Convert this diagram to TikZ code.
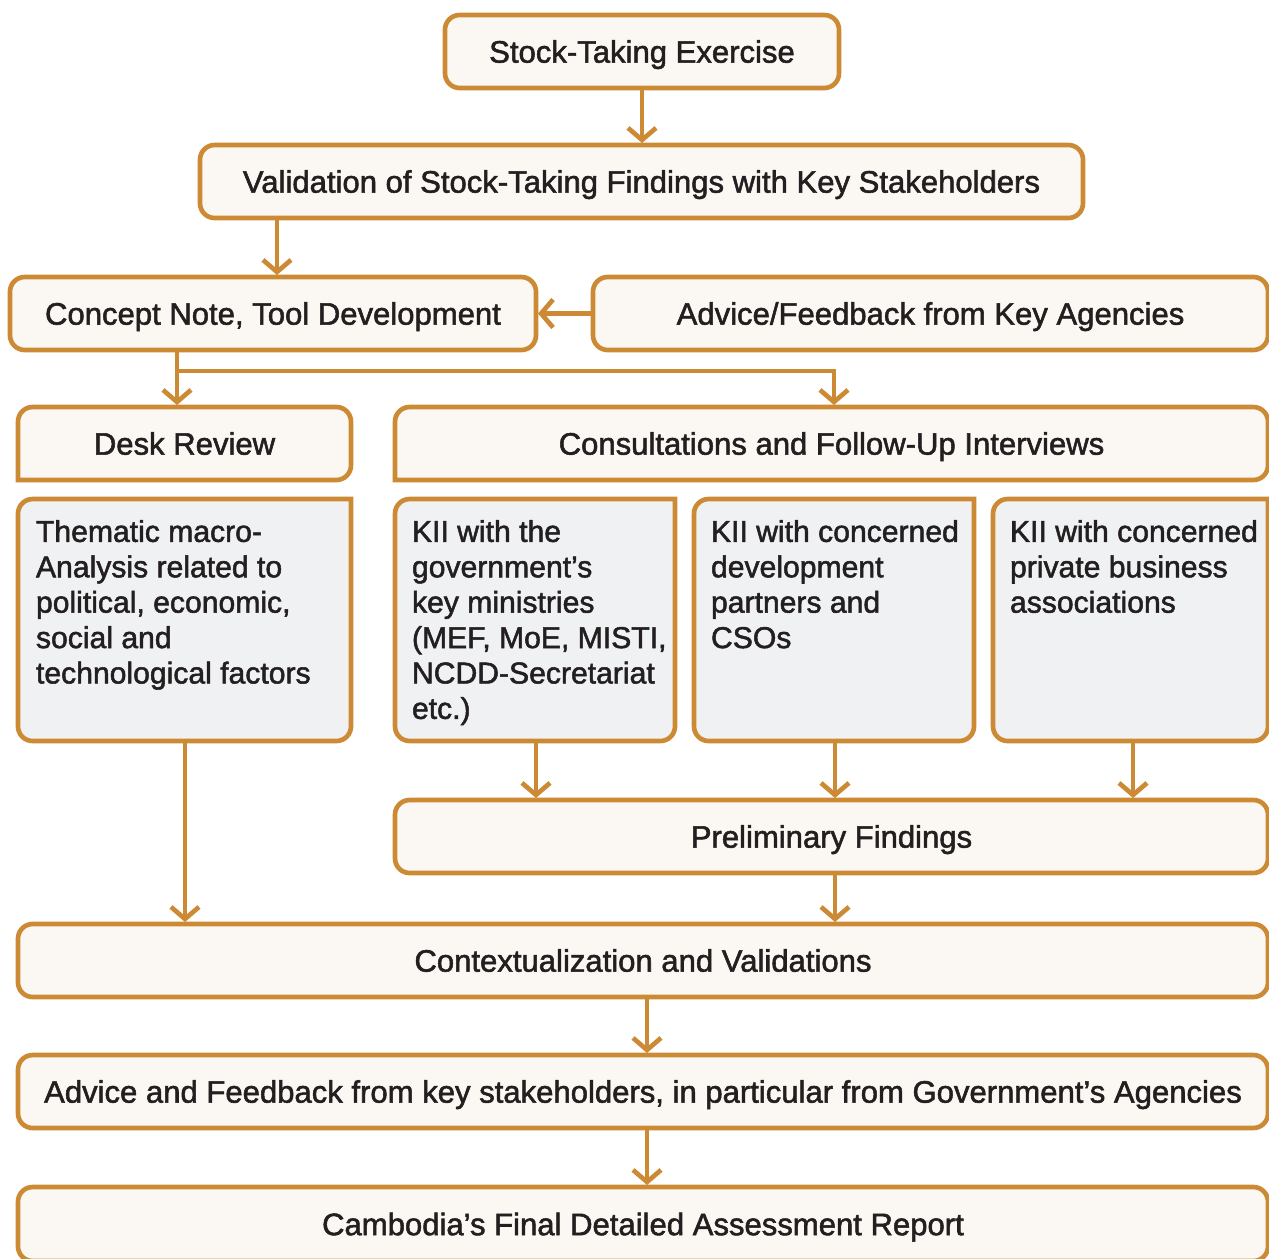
\documentclass[tikz,border=0pt]{standalone}
\usepackage{fontspec}
\newfontfamily\lbl{Liberation Sans}[FakeBold=1.7]
\usetikzlibrary{arrows.meta,backgrounds}
\definecolor{orng}{HTML}{CD8A35}
\definecolor{cream}{HTML}{FBF8F3}
\definecolor{grayfill}{HTML}{F0F1F3}
\definecolor{ink}{HTML}{231F20}
\begin{document}
\begin{tikzpicture}[x=0.75pt,y=-0.75pt,
  lab/.style={inner sep=0pt, outer sep=0pt, text=ink, font=\lbl\fontsize{23.3}{26.55}\selectfont, text height=16.7pt, text depth=0pt},
  box/.style={lab, draw=orng, fill=cream, line width=3.5pt, rounded corners=11pt, minimum height=54.75pt},
  plain/.style={lab, minimum height=54.75pt},
  para/.style={inner sep=0pt, outer sep=0pt, text=ink, font=\lbl\fontsize{22.6}{26.55}\selectfont, align=left, anchor=north west},
  frame/.style={draw=orng, line width=3.5pt},
  arr/.style={draw=orng, line width=3.5pt, shorten >=1.5pt, -{Straight Barb[length=9pt,width=21pt]}}]
\useasboundingbox (0,0) rectangle (1269,1258);
\clip (0,0) rectangle (1269,1258);

% single boxes
\node[box, minimum width=295.5pt] (stock) at (642,51.5) {Stock-Taking Exercise};
\node[box, minimum width=662.25pt] (valid) at (641.5,181.5) {Validation of Stock-Taking Findings with Key Stakeholders};
\node[box, minimum width=394.5pt] (concept) at (273,313.5) {Concept Note, Tool Development};
\node[box, minimum width=506.25pt] (advice) at (930.5,313.5) {Advice/Feedback from Key Agencies};
\node[box, minimum width=654.75pt] (prelim) at (831.5,836.5) {Preliminary Findings};
\node[box, minimum width=937.5pt] (context) at (643,960.5) {Contextualization and Validations};
\node[box, minimum width=937.5pt] (advfb) at (643,1091.5) {Advice and Feedback from key stakeholders, in particular from Government’s Agencies};
\node[box, minimum width=937.5pt, minimum height=55.5pt] (camb) at (643,1224) {Cambodia’s Final Detailed Assessment Report};

% headers (rounded top only)
\node[plain, minimum width=249.75pt] (desk) at (184.5,443.5) {Desk Review};
\node[plain, minimum width=654.75pt] (consult) at (831.5,443.5) {Consultations and Follow-Up Interviews};

% content boxes (rounded bottom only)
\node[plain, minimum width=249.75pt, minimum height=181.5pt] (deskc) at (184.5,620) {};
\node[plain, minimum width=210pt, minimum height=181.5pt] (kii1) at (535,620) {};
\node[plain, minimum width=210pt, minimum height=181.5pt] (kii2) at (834,620) {};
\node[plain, minimum width=206.25pt, minimum height=181.5pt] (kii3) at (1130.5,620) {};

\begin{pgfonlayer}{background}
  \fill[white] (0,0) rectangle (1269,1258);
  \foreach \n in {desk,consult}{
    \draw[frame, fill=cream] (\n.south west) [rounded corners=11pt] -- (\n.north west) -- (\n.north east) -- (\n.south east) [sharp corners] -- cycle;
  }
  \foreach \n in {deskc,kii1,kii2,kii3}{
    \draw[frame, fill=grayfill] (\n.north east) [rounded corners=11pt] -- (\n.south east) -- (\n.south west) -- (\n.north west) [sharp corners] -- cycle;
  }
\end{pgfonlayer}

\node[para] (deskt) at (36,520) {Thematic macro-\\Analysis related to\\political, economic,\\social and\\technological factors};
\node[para] (kii1t) at (412,520) {KII with the\\government’s\\key ministries\\(MEF, MoE, MISTI,\\NCDD-Secretariat\\etc.)};
\node[para] (kii2t) at (711,520) {KII with concerned\\development\\partners and\\CSOs};
\node[para] (kii3t) at (1010,520) {KII with concerned\\private business\\associations};

% x guides
\coordinate (x177) at (177,0);
\coordinate (x277) at (277,0);
\coordinate (x834) at (834,0);
\coordinate (x835) at (835,0);
\coordinate (x536) at (536,0);
\coordinate (x1133) at (1133,0);
\coordinate (x647) at (647,0);
\coordinate (x185) at (185,0);
\coordinate (branch) at (177,371);

% connectors
\draw[arr] (stock.south) -- (stock.south |- valid.north);
\draw[arr] (valid.south -| x277) -- (concept.north -| x277);
\draw[arr] (advice.west) -- (concept.east);
\draw[arr] (concept.south -| x177) -- (desk.north -| x177);
\draw[arr] (branch) -| (consult.north -| x834);
\draw[arr] (kii1.south -| x536) -- (prelim.north -| x536);
\draw[arr] (kii2.south -| x835) -- (prelim.north -| x835);
\draw[arr] (kii3.south -| x1133) -- (prelim.north -| x1133);
\draw[arr] (deskc.south -| x185) -- (context.north -| x185);
\draw[arr] (prelim.south -| x835) -- (context.north -| x835);
\draw[arr] (context.south -| x647) -- (advfb.north -| x647);
\draw[arr] (advfb.south -| x647) -- (camb.north -| x647);
\end{tikzpicture}
\end{document}
